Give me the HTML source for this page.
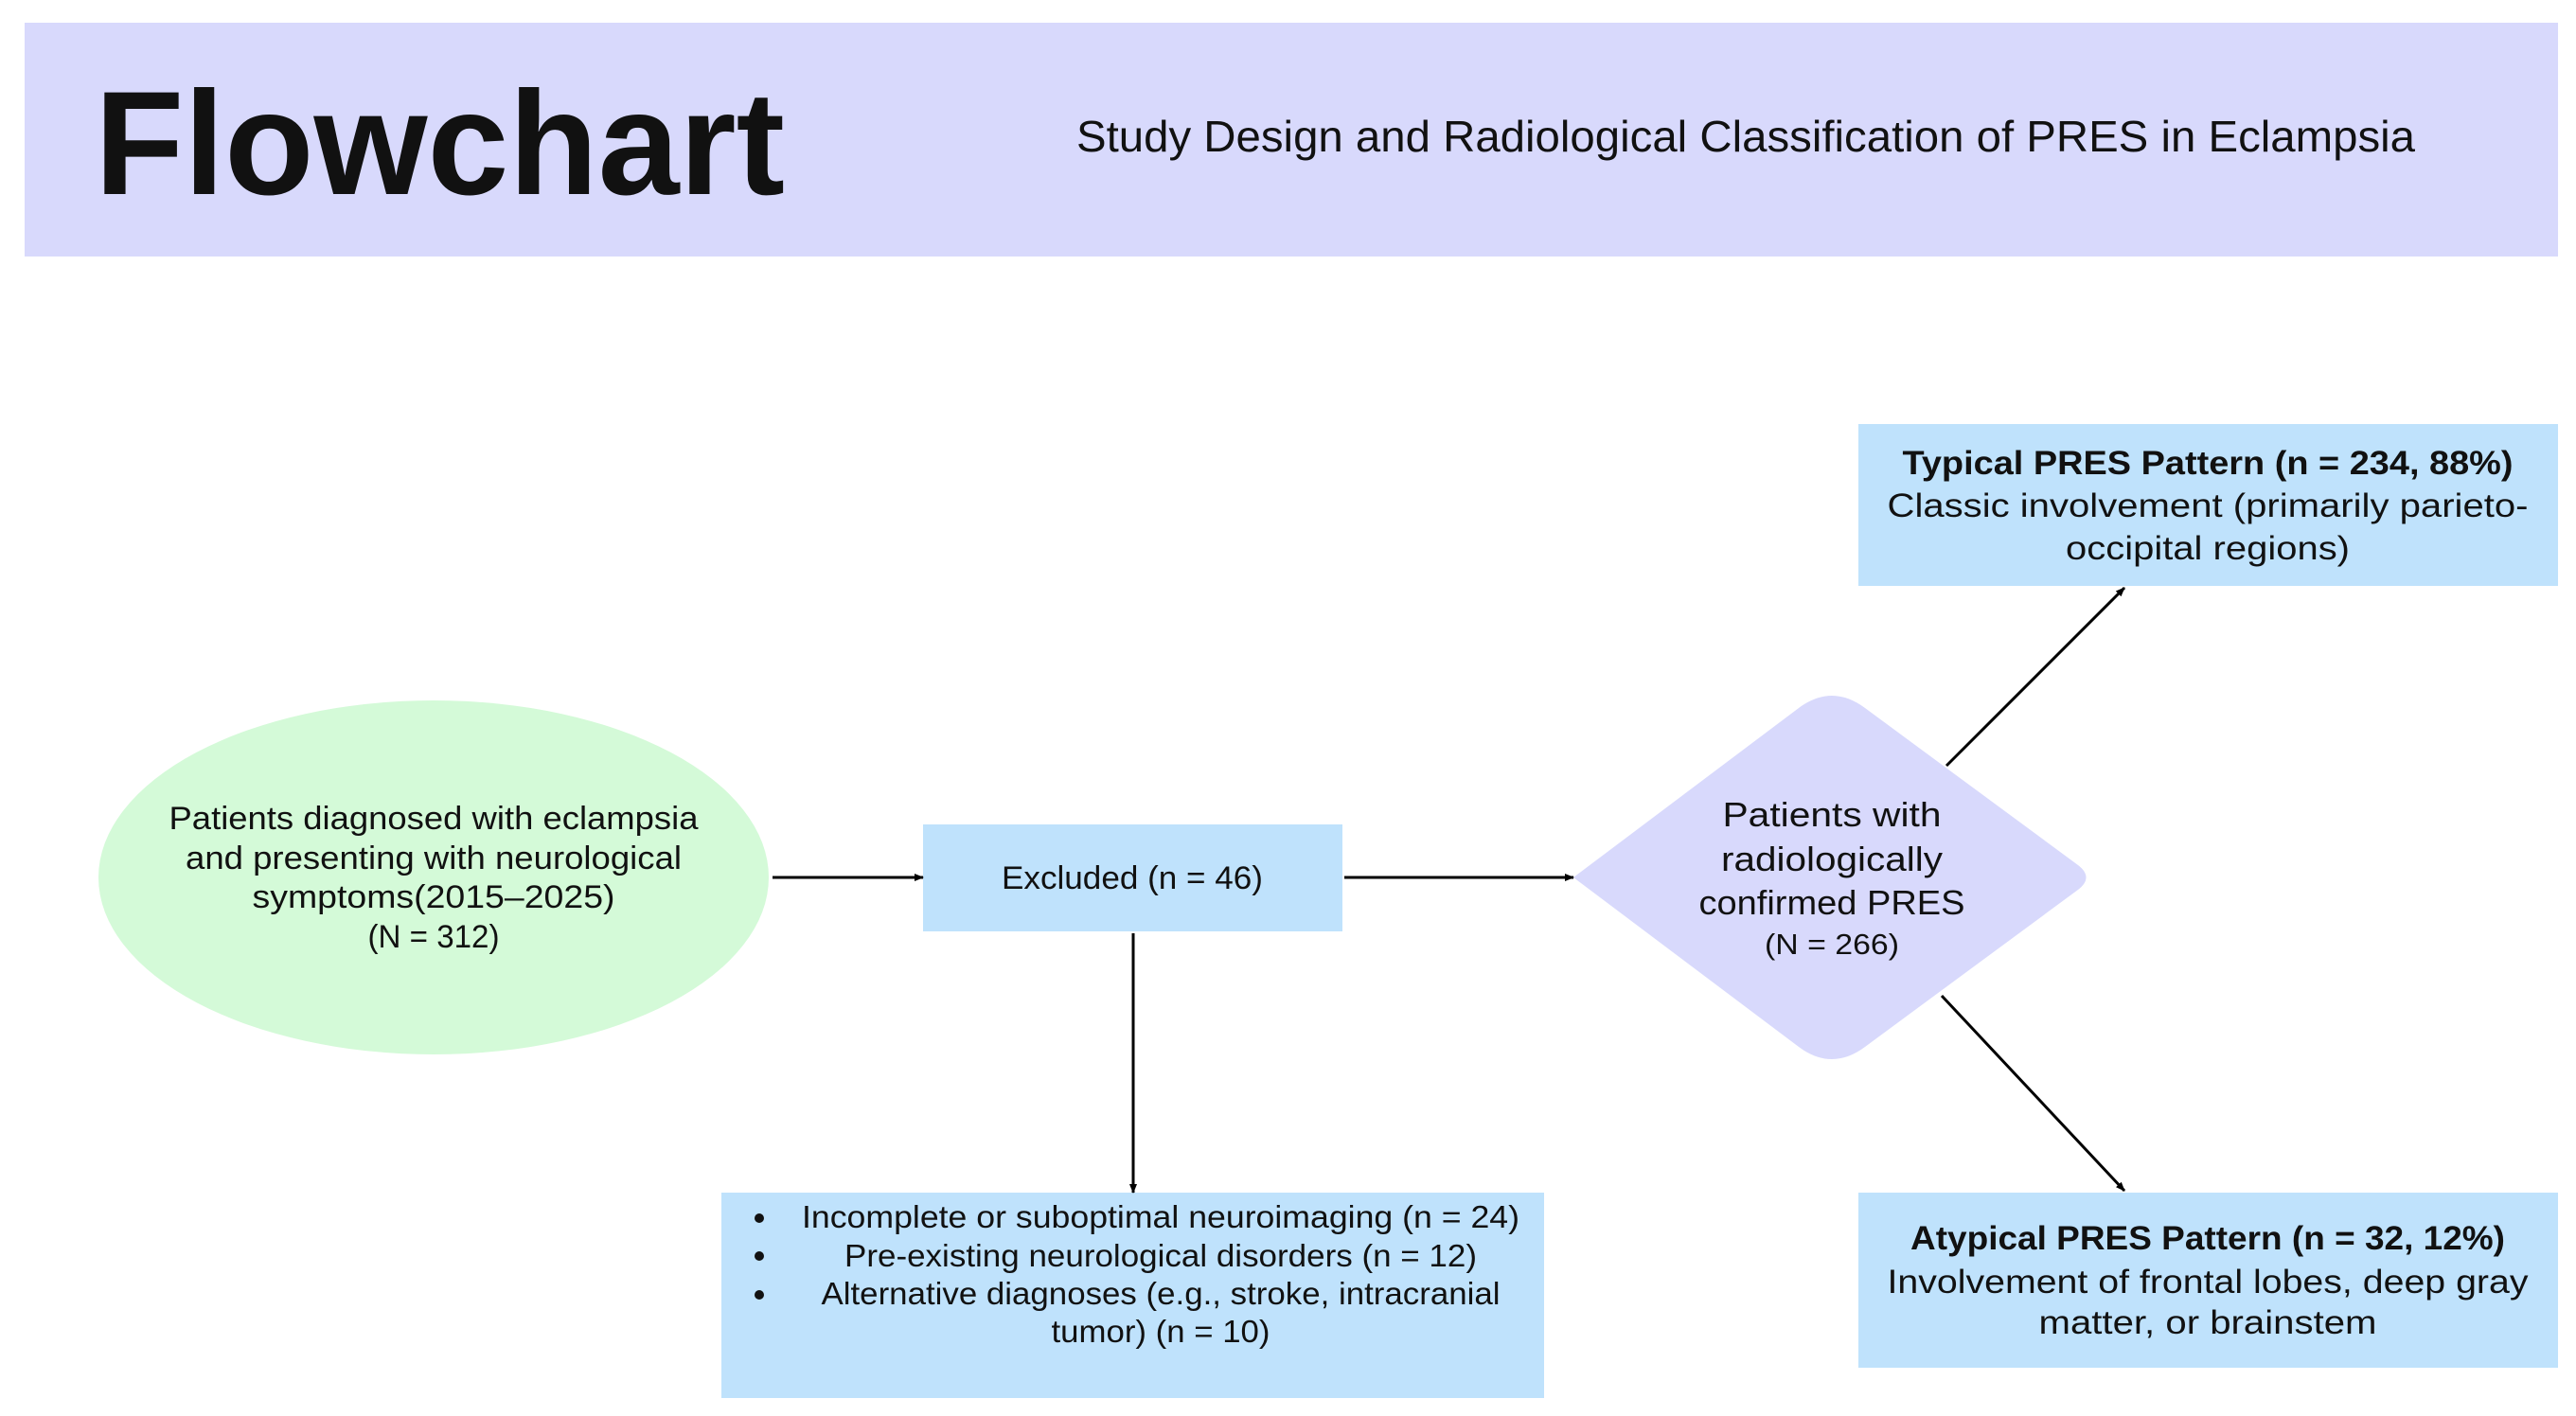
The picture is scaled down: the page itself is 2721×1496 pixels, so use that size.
<!DOCTYPE html>
<html><head><meta charset="utf-8"><style>
html,body{margin:0;padding:0;background:#fff;}
svg{display:block;}
text{font-family:"Liberation Sans",sans-serif;fill:#111;}
</style></head><body>
<svg width="2721" height="1496" viewBox="0 0 2721 1496" xmlns="http://www.w3.org/2000/svg">
<defs>
<marker id="ah" markerWidth="10" markerHeight="10" refX="9" refY="5" orient="auto" markerUnits="userSpaceOnUse">
<path d="M0,1 L10,5 L0,9 z" fill="#000"/>
</marker>
</defs>
<rect x="26" y="24" width="2676" height="247" fill="#d8d9fc"/>
<text x="100" y="205" font-size="156" font-weight="bold" fill="#000" textLength="729" lengthAdjust="spacingAndGlyphs">Flowchart</text>
<text x="1844" y="160" font-size="46" text-anchor="middle" fill="#111" textLength="1414" lengthAdjust="spacingAndGlyphs">Study Design and Radiological Classification of PRES in Eclampsia</text>

<ellipse cx="458" cy="927" rx="354" ry="187" fill="#d4fad8"/>
<g font-size="34" text-anchor="middle">
<text x="458" y="876" textLength="559" lengthAdjust="spacingAndGlyphs">Patients diagnosed with eclampsia</text>
<text x="458" y="918" textLength="524" lengthAdjust="spacingAndGlyphs">and presenting with neurological</text>
<text x="458" y="959" textLength="383" lengthAdjust="spacingAndGlyphs">symptoms(2015–2025)</text>
<text x="458" y="1001" textLength="139" lengthAdjust="spacingAndGlyphs">(N = 312)</text>
</g>

<rect x="975" y="871" width="443" height="113" fill="#bfe2fc"/>
<text x="1196" y="939" font-size="34" text-anchor="middle" textLength="276" lengthAdjust="spacingAndGlyphs">Excluded (n = 46)</text>

<path d="M1662,927 L1900,748 Q1935,722 1970,748 L2195,914 Q2212,927 2195,940 L1970,1106 Q1935,1132 1900,1106 Z" fill="#d8d9fc"/>
<g font-size="36" text-anchor="middle">
<text x="1935" y="873" textLength="231" lengthAdjust="spacingAndGlyphs">Patients with</text>
<text x="1935" y="920" textLength="234" lengthAdjust="spacingAndGlyphs">radiologically</text>
<text x="1935" y="966" textLength="281" lengthAdjust="spacingAndGlyphs">confirmed PRES</text>
<text x="1935" y="1008" font-size="31" textLength="142" lengthAdjust="spacingAndGlyphs">(N = 266)</text>
</g>

<rect x="762" y="1260" width="869" height="217" fill="#bfe2fc"/>
<g font-size="33" text-anchor="middle">
<text x="1226" y="1297" textLength="758" lengthAdjust="spacingAndGlyphs">Incomplete or suboptimal neuroimaging (n = 24)</text>
<text x="1226" y="1338" textLength="668" lengthAdjust="spacingAndGlyphs">Pre-existing neurological disorders (n = 12)</text>
<text x="1226" y="1378" textLength="717" lengthAdjust="spacingAndGlyphs">Alternative diagnoses (e.g., stroke, intracranial</text>
<text x="1226" y="1418" textLength="231" lengthAdjust="spacingAndGlyphs">tumor) (n = 10)</text>
</g>
<g fill="#111"><circle cx="802" cy="1287" r="5"/><circle cx="802" cy="1327" r="5"/><circle cx="802" cy="1368" r="5"/></g>

<rect x="1963" y="448" width="739" height="171" fill="#bfe2fc"/>
<g font-size="35" text-anchor="middle">
<text x="2332" y="501" font-weight="bold" textLength="645" lengthAdjust="spacingAndGlyphs">Typical PRES Pattern (n = 234, 88%)</text>
<text x="2332" y="546" textLength="677" lengthAdjust="spacingAndGlyphs">Classic involvement (primarily parieto-</text>
<text x="2332" y="591" textLength="300" lengthAdjust="spacingAndGlyphs">occipital regions)</text>
</g>

<rect x="1963" y="1260" width="739" height="185" fill="#bfe2fc"/>
<g font-size="35" text-anchor="middle">
<text x="2332" y="1320" font-weight="bold" textLength="628" lengthAdjust="spacingAndGlyphs">Atypical PRES Pattern (n = 32, 12%)</text>
<text x="2332" y="1366" textLength="677" lengthAdjust="spacingAndGlyphs">Involvement of frontal lobes, deep gray</text>
<text x="2332" y="1409" textLength="357" lengthAdjust="spacingAndGlyphs">matter, or brainstem</text>
</g>

<g stroke="#000" stroke-width="3" fill="none">
<line x1="816" y1="927" x2="975" y2="927" marker-end="url(#ah)"/>
<line x1="1420" y1="927" x2="1662" y2="927" marker-end="url(#ah)"/>
<line x1="1197" y1="986" x2="1197" y2="1260" marker-end="url(#ah)"/>
<line x1="2056" y1="809" x2="2244" y2="621" marker-end="url(#ah)"/>
<line x1="2051" y1="1052" x2="2244" y2="1258" marker-end="url(#ah)"/>
</g>
</svg>
</body></html>
